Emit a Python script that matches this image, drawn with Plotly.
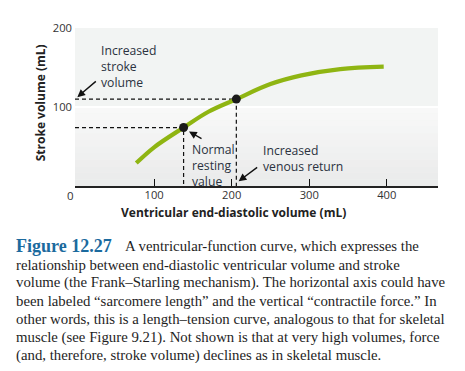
import plotly.graph_objects as go

# ---- data ----
curve_x = [77, 100, 138, 170, 206, 250, 290, 340, 396]
curve_y = [29, 49, 74, 94, 110, 129, 140, 148, 151]
point_x = [138, 206]
point_y = [74, 110]
x_ticks = [100, 200, 300, 400]
y_ticks = [100, 200]
x_range = [-2, 466]
y_range = [0, 200]

caption_lines = [
    "relationship between end-diastolic ventricular volume and stroke",
    "volume (the Frank\u2013Starling mechanism). The horizontal axis could have",
    "been labeled \u201csarcomere length\u201d and the vertical \u201ccontractile force.\u201d In",
    "other words, this is a length\u2013tension curve, analogous to that for skeletal",
    "muscle (see Figure 9.21). Not shown is that at very high volumes, force",
    "(and, therefore, stroke volume) declines as in skeletal muscle.",
]

# page body has an 8px default margin -> figure placed at (8,8)
OFF = 8
W, H = 457, 355
P_L, P_R, P_T, P_B = 75, 438, 27.5, 186   # plot area in page pixels
ML, MR, MT, MB = P_L - OFF, W - (P_R - OFF), P_T - OFF, H - (P_B - OFF)
PW, PH = P_R - P_L, P_B - P_T


def xp(px):
    return (px - P_L) / PW


def yp(py):
    return (P_B - py) / PH


SANS = "Open Sans"
SERIF = "Liberation Serif, Times New Roman, serif"
TXT = "#2b3240"

fig = go.Figure()

for px, py in zip(point_x, point_y):
    fig.add_trace(go.Scatter(
        x=[x_range[0], px, px], y=[py, py, y_range[0]], mode="lines",
        line=dict(color="#111111", width=1.2, dash="4px,3px"),
        hoverinfo="skip", showlegend=False))

fig.add_trace(go.Scatter(
    x=curve_x, y=curve_y, mode="lines",
    line=dict(color="#8fb512", width=4.2, shape="spline", smoothing=1.0),
    showlegend=False))

fig.add_trace(go.Scatter(
    x=point_x, y=point_y, mode="markers",
    marker=dict(color="#1a1a1a", size=9), showlegend=False))

shapes = [dict(type="rect", xref="paper", yref="y", x0=0, x1=1, y0=100, y1=200,
               fillcolor="#f2f4f3", line=dict(width=0), layer="below")]
n = 12
top_c = (249, 249, 249)
bot_c = (233, 234, 234)
for i in range(n):
    t = (i + 0.5) / n
    c = tuple(int(round(top_c[k] + (bot_c[k] - top_c[k]) * t)) for k in range(3))
    y1 = 100 - 100 * i / n
    y0 = 100 - 100 * (i + 1) / n
    shapes.append(dict(type="rect", xref="paper", yref="y", x0=0, x1=1, y0=y0, y1=y1,
                       fillcolor="rgb(%d,%d,%d)" % c, line=dict(width=0), layer="below"))

annotations = []
lab_font = dict(family=SANS, size=12.2, color=TXT)
annotations.append(dict(x=xp(99), y=yp(39.5), xref="paper", yref="paper", xanchor="left",
                        yanchor="top", text="Increased<br>stroke<br>volume", showarrow=False,
                        align="left", font=lab_font))
annotations.append(dict(x=xp(190), y=yp(138.5), xref="paper", yref="paper", xanchor="left",
                        yanchor="top", text="Normal<br>resting<br>value", showarrow=False,
                        align="left", font=lab_font))
annotations.append(dict(x=xp(261), y=yp(139.5), xref="paper", yref="paper", xanchor="left",
                        yanchor="top", text="Increased<br>venous return", showarrow=False,
                        align="left", font=lab_font))

arrow = dict(showarrow=True, arrowhead=2, arrowsize=1.1, arrowwidth=1.4, arrowcolor="#111111",
             text="", xref="x", yref="y", axref="pixel", ayref="pixel")
annotations.append(dict(arrow, x=1, y=112.5, ax=20, ay=-17))
annotations.append(dict(arrow, x=145, y=69, ax=14, ay=8))
annotations.append(dict(arrow, x=209, y=6, ax=20, ay=-15))

annotations.append(dict(x=xp(70), y=yp(196), xref="paper", yref="paper", text="0",
                        xanchor="center", yanchor="middle",
                        showarrow=False, font=dict(family=SANS, size=11.5, color="#333333")))
annotations.append(dict(x=xp(233), y=yp(212.5), xref="paper", yref="paper",
                        xanchor="center", yanchor="middle",
                        text="<b>Ventricular end-diastolic volume (mL)</b>", showarrow=False,
                        font=dict(family=SANS, size=12, color="#222222")))
annotations.append(dict(x=xp(40), y=yp(103), xref="paper", yref="paper", textangle=-90,
                        xanchor="center", yanchor="middle",
                        text="<b>Stroke volume (mL)</b>", showarrow=False,
                        font=dict(family=SANS, size=12, color="#222222")))

annotations.append(dict(x=xp(14), y=yp(246.5), xref="paper", yref="paper", xanchor="left",
                        yanchor="middle", text="<b>Figure 12.27</b>", showarrow=False,
                        font=dict(family=SERIF, size=18, color="#1b6a9e")))
annotations.append(dict(x=xp(123), y=yp(246.5), xref="paper", yref="paper", xanchor="left",
                        yanchor="middle", text="A ventricular-function curve, which expresses the",
                        showarrow=False, font=dict(family=SERIF, size=14.8, color="#1e1e1e")))
for i, line in enumerate(caption_lines):
    yc = 265 + i * 18.3
    annotations.append(dict(x=xp(14), y=yp(yc), xref="paper", yref="paper", xanchor="left",
                            yanchor="middle", text=line, showarrow=False,
                            font=dict(family=SERIF, size=14.8, color="#1e1e1e")))

fig.update_layout(
    width=W, height=H,
    margin=dict(l=ML, r=MR, t=MT, b=MB, pad=0),
    paper_bgcolor="white", plot_bgcolor="#f2f4f3",
    shapes=shapes, annotations=annotations,
    xaxis=dict(range=x_range, tickvals=x_ticks, ticks="inside", ticklen=7, tickwidth=1.2,
               tickcolor="#111111", showline=True, linecolor="#222222", linewidth=2,
               showgrid=False, zeroline=False, ticklabelstandoff=-2,
               tickfont=dict(family=SANS, size=11.2, color="#333333")),
    yaxis=dict(range=y_range, tickvals=y_ticks, ticks="", showline=False,
               showgrid=True, gridcolor="white", gridwidth=2, zeroline=False,
               ticklabelstandoff=2,
               tickfont=dict(family=SANS, size=11.2, color="#333333")),
)

fig.write_html("out.html")
